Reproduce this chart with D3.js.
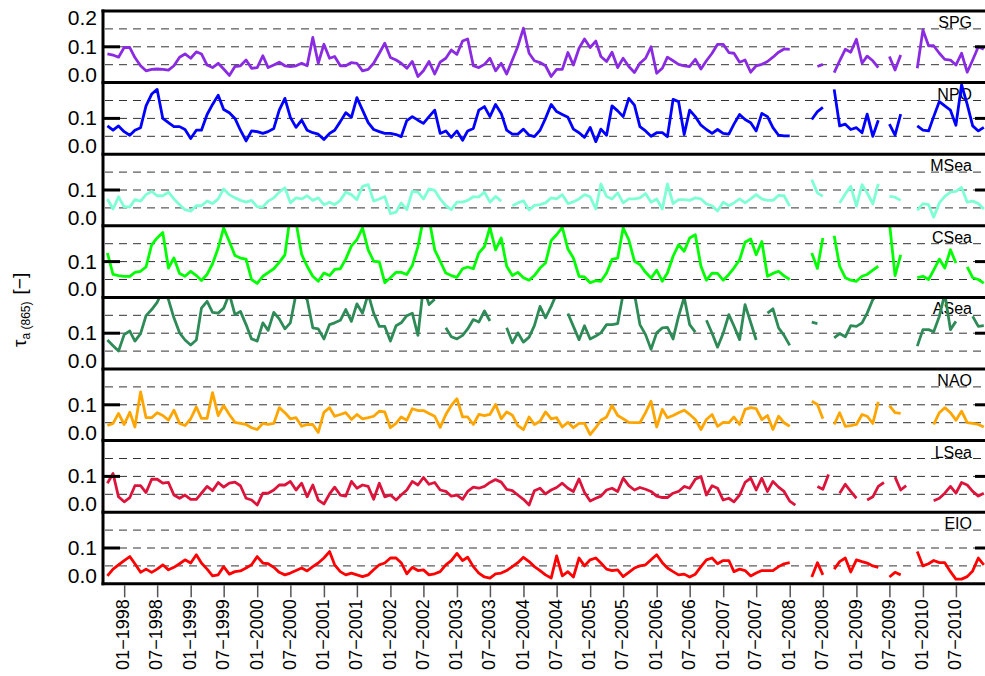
<!DOCTYPE html>
<html>
<head>
<meta charset="utf-8">
<script src="https://d3js.org/d3.v7.min.js"></script>
<style>
  body { margin: 0; background: #fff; }
  text { font-family: "Liberation Sans", Arial, Helvetica, sans-serif; }
</style>
</head>
<body>
<div id="chart"></div>
<script>

// monthly aerosol optical thickness, Oct 1997 .. Dec 2010 (null = no data)
var regions = ["SPG", "NPO", "MSea", "CSea", "ASea", "NAO", "LSea", "EIO"];
var colors = ["blueviolet", "#0000ff", "aquamarine", "#00ff00", "seagreen", "orange", "crimson", "#ff0000"];

var spg = [
  .080,.077,.071,.098,.098,.070,.047,.033,.037,.038,
  .037,.035,.047,.071,.080,.068,.086,.080,.049,.042,
  .054,.038,.020,.045,.047,.063,.040,.042,.075,.042,
  .049,.057,.047,.045,.047,.054,.047,.126,.054,.107,
  .068,.073,.047,.047,.056,.054,.033,.037,.054,.082,
  .110,.070,.063,.054,.040,.059,.017,.033,.059,.024,
  .057,.068,.091,.079,.116,.122,.047,.042,.051,.068,
  .033,.054,.024,.063,.101,.152,.082,.061,.056,.047,
  .017,.037,.037,.084,.049,.096,.122,.098,.116,.073,
  .059,.085,.042,.068,.045,.028,.054,.068,.100,.026,
  .040,.071,.061,.051,.047,.045,.065,.038,.061,.082,
  .107,.107,.084,.082,.057,.063,.029,.047,.051,.059,
  .071,.085,.094,.093,null,null,null,null,.045,.051,
  null,.028,.061,.093,.085,.121,.054,.074,.061,.042,
  null,.073,.035,.077,null,null,.040,.147,.103,.103,
  .082,.065,.063,.049,.082,.029,.063,.100,.093];

var npo = [
  .079,.067,.079,.063,.053,.067,.074,.135,.168,.181,
  .100,.088,.077,.077,.069,.044,.067,.067,.111,.139,
  .165,.125,.116,.100,.067,.037,.065,.063,.058,.063,
  .072,.123,.156,.103,.075,.095,.067,.060,.056,.041,
  .058,.067,.091,.116,.103,.158,.123,.088,.069,.063,
  .058,.058,.055,.049,.094,.105,.095,.086,.105,.123,
  .058,.065,.047,.065,.039,.065,.072,.123,.133,.105,
  .139,.114,.067,.056,.056,.070,.053,.049,.067,.100,
  .139,.119,.111,.103,.070,.060,.047,.075,.035,.070,
  .053,.135,.121,.105,.156,.137,.077,.065,.050,.060,
  .060,.049,.153,.147,.055,.123,.105,.081,.069,.058,
  .069,.058,.056,.084,.111,.097,.088,.065,.114,.105,
  .074,.053,.051,.051,null,null,null,.097,.119,.131,
  null,.181,.079,.084,.069,.074,.060,.112,.050,.095,
  null,.084,.053,.112,null,null,.079,.067,.065,.105,
  .147,.135,.123,.081,.194,.139,.079,.065,.075];

var msea = [
  .075,.047,.081,.053,.053,.073,.069,.087,.096,.084,
  .084,.094,.075,.059,.045,.041,.056,.056,.069,.062,
  .075,.103,.087,.078,.071,.066,.071,.053,.053,.069,
  .078,.094,.106,.064,.078,.075,.084,.071,.078,.059,
  .066,.059,.071,.094,.087,.073,.110,.115,.069,.075,
  .082,.034,.038,.064,.045,.096,.094,.075,.103,.099,
  .075,.056,.045,.066,.066,.071,.081,.081,.094,.066,
  .082,.069,null,.056,.064,.070,.044,.057,.059,.064,
  .078,.075,.087,.062,.067,.075,.087,.081,.047,.117,
  .082,.075,.092,.064,.075,.075,.078,.090,.066,.075,
  .047,.117,.062,.073,.073,.071,.078,.075,.061,.056,
  .041,.066,.056,.064,.075,.064,.075,.087,.075,.071,
  .071,.085,.084,.055,null,null,null,.129,.092,.082,
  null,null,.064,.089,.110,.055,.115,.092,.061,.117,
  null,.082,.080,.071,null,null,.043,.062,.059,.024,
  .064,.082,.094,.096,.107,.066,.069,.062,.047];

var csea = [
  .124,.064,.061,.059,.059,.070,.073,.085,.147,.166,
  .181,.082,.110,.067,.059,.073,.061,.047,.064,.094,
  .138,.194,.156,.117,.110,.107,.050,.039,.059,.069,
  .080,.098,.119,.230,.210,.120,.087,.059,.045,.068,
  .061,.078,.080,.107,.144,.161,.194,.133,.101,.099,
  .041,.055,.070,.070,.064,.089,.142,.220,.220,.133,
  .101,.068,.061,.056,.080,.085,.080,.124,.142,.196,
  .133,.166,.087,.061,.070,.055,.048,.061,.082,.096,
  .159,.175,.196,.135,.110,.059,.057,.041,.047,.045,
  .068,.106,.110,.194,.161,.101,.092,.070,.054,.076,
  .045,.068,.115,.147,.129,.166,.175,.087,.048,.068,
  .067,.048,.064,.082,.105,.154,.163,.119,.156,.059,
  .067,.073,.060,.050,null,null,null,.124,.081,.166,
  null,.172,.087,.055,.048,.045,.059,.064,.076,.087,
  null,.210,.061,.119,null,null,.055,.059,.050,.076,
  .107,.082,.133,.096,null,.085,.055,.050,.040];

var asea = [
  .081,.065,.050,.096,.106,.078,.099,.149,.166,.186,
  .220,.194,.143,.101,.081,.067,.081,.170,.189,.158,
  .156,.170,.210,.152,.161,.124,.084,.078,.129,.108,
  .158,.140,.112,.129,.210,.210,.194,.115,.112,.084,
  .124,.129,.136,.166,.133,.182,.156,.210,.156,.119,
  .119,.078,.121,.129,.149,.156,.094,.230,.180,.195,
  null,.115,.090,.084,.094,.112,.138,.131,.162,.134,
  null,null,.115,.073,.101,.075,.089,.121,.175,.143,
  .175,.210,null,.155,.119,.082,.121,.084,.092,.101,
  .124,.124,.127,.210,.220,.210,.124,.096,.055,.101,
  .115,.116,.084,.147,.200,.124,.103,null,.136,.100,
  .061,.100,.152,.120,.082,.180,.130,.081,null,.156,
  .168,.115,.094,.066,null,null,null,.131,.127,null,
  null,.087,.099,.090,.121,.119,.129,.156,.194,.210,
  null,null,null,null,null,null,.064,.110,.110,.104,
  .147,.210,.110,.133,null,null,.147,.119,.121];

var nao = [
  .042,.048,.076,.045,.079,.038,.136,.064,.064,.078,
  .070,.057,.085,.048,.042,.061,.094,.062,.062,.134,
  .070,.098,.073,.051,.048,.045,.036,.031,.048,.045,
  .048,.092,.078,.061,.064,.040,.045,.045,.023,.079,
  .092,.068,.073,.078,.059,.073,.061,.064,.068,.082,
  .080,.036,.048,.066,.057,.089,.084,.084,.076,.068,
  .037,.073,.098,.117,.066,.066,.045,.073,.070,.073,
  .101,.061,.080,.071,.042,.031,.066,.045,.054,.080,
  .061,.064,.038,.051,.036,.048,.048,.017,.036,.057,
  .066,.098,.070,.061,.051,.050,.050,.078,.110,.038,
  .087,.064,.070,.078,.085,.073,.059,.031,.059,.073,
  .040,.051,.050,.066,.045,.087,.092,.089,.059,.070,
  .031,.068,.050,.040,null,null,null,.110,.101,.061,
  null,.045,.078,.040,.042,.045,.073,.068,.048,.108,
  null,.098,.078,.076,null,null,null,null,null,.045,
  .078,.092,.078,.057,.082,.050,.048,.045,.038];

var lsea = [
  .081,.108,.043,.029,.041,.074,.074,.055,.092,.092,
  .081,.083,.048,.039,.048,.036,.036,.053,.072,.060,
  .083,.070,.081,.084,.074,.039,.034,.020,.053,.053,
  .062,.076,.076,.086,.062,.081,.043,.076,.034,.023,
  .051,.070,.048,.045,.086,.067,.076,.072,.036,.081,
  .043,.048,.034,.048,.062,.086,.076,.097,.078,.083,
  .062,.058,.045,.048,.036,.058,.070,.067,.072,.083,
  .091,.084,.064,.060,.048,.036,.020,.060,.067,.051,
  .062,.069,.081,.067,.058,.093,.055,.031,.039,.045,
  .062,.067,.058,.095,.074,.062,.069,.064,.058,.045,
  .041,.041,.053,.058,.072,.067,.092,.100,.048,.074,
  .067,.034,.039,.029,.048,.083,.095,.062,.095,.058,
  .086,.070,.058,.031,.020,null,null,null,.072,.064,
  .105,null,.053,.078,.058,.039,null,.034,.043,.072,
  .083,null,.098,.062,.074,null,null,null,null,.032,
  .039,.053,.072,.053,.083,.076,.058,.045,.053];

var eio = [
  .022,.041,.053,.065,.076,.056,.032,.041,.032,.041,
  .053,.039,.046,.056,.067,.058,.081,.058,.041,.022,
  .025,.048,.027,.034,.036,.044,.053,.076,.058,.056,
  .046,.032,.025,.030,.037,.044,.036,.048,.058,.072,
  .090,.053,.034,.025,.030,.025,.020,.025,.039,.053,
  .058,.072,.072,.059,.028,.046,.037,.039,.025,.028,
  .034,.053,.065,.085,.065,.074,.048,.030,.019,.016,
  .028,.030,.037,.048,.059,.074,.062,.048,.037,.025,
  .016,.078,.022,.034,.019,.072,.050,.067,.072,.058,
  .041,.037,.039,.020,.032,.044,.050,.053,.067,.081,
  .059,.044,.034,.025,.027,.019,.027,.048,.067,.072,
  .056,.065,.065,.034,.041,.037,.022,.030,.037,.037,
  .037,.048,.056,.059,null,null,null,.019,.059,.025,
  null,.041,.062,.072,.033,.067,.062,.058,.050,.046,
  null,.019,.032,.025,null,null,.090,.050,.056,.065,
  .059,.059,.034,.013,.013,.020,.036,.072,.053];

var seriesValues = [spg, npo, msea, csea, asea, nao, lsea, eio];

var tickLabels = [
  "01−1998", "07−1998", "01−1999", "07−1999", "01−2000", "07−2000",
  "01−2001", "07−2001", "01−2002", "07−2002", "01−2003", "07−2003",
  "01−2004", "07−2004", "01−2005", "07−2005", "01−2006", "07−2006",
  "01−2007", "07−2007", "01−2008", "07−2008", "01−2009", "07−2009",
  "01−2010", "07−2010"];

var gridVals = [0.05, 0.1, 0.15];

// layout
var plotLeft = 103, plotRight = 992, plotTop = 11, panelH = 71.6;
var width = 985, height = 676;

var svg = d3.select("#chart")
  .append("svg")
    .attr("width", width)
    .attr("height", height);

// one point per month
var months = d3.timeMonth.range(new Date(1997, 9, 1), new Date(2011, 0, 1));

var x = d3.scaleTime()
  .domain([new Date(1997, 9, 1), new Date(2010, 11, 1)])
  .range([107.4, 983.8]);

var defs = svg.append("defs");

seriesValues.forEach(function(values, k) {
  var top = plotTop + k * panelH;
  var y = d3.scaleLinear()
    .domain([0, 0.2])
    .range([top + panelH, top]);

  defs.append("clipPath")
      .attr("id", "clip" + k)
    .append("rect")
      .attr("x", plotLeft)
      .attr("y", top)
      .attr("width", plotRight - plotLeft)
      .attr("height", panelH);

  var g = svg.append("g");

  // dashed reference lines
  g.selectAll(".grid")
    .data(gridVals)
    .enter()
    .append("line")
      .attr("x1", plotLeft + 2)
      .attr("x2", plotRight)
      .attr("y1", function(d) { return y(d); })
      .attr("y2", function(d) { return y(d); })
      .attr("stroke", "#333")
      .attr("stroke-width", 1)
      .attr("stroke-dasharray", "8,6");

  // region name
  g.append("text")
    .attr("x", 972)
    .attr("y", y(0.15) - 1)
    .attr("text-anchor", "end")
    .style("font-size", "16px")
    .text(regions[k]);

  // the series
  var line = d3.line()
    .defined(function(d) { return d !== null; })
    .x(function(d, i) { return x(months[i]); })
    .y(function(d) { return y(d); });

  g.append("path")
    .datum(values)
    .attr("clip-path", "url(#clip" + k + ")")
    .attr("fill", "none")
    .attr("stroke", colors[k])
    .attr("stroke-width", 2.8)
    .attr("stroke-linejoin", "round")
    .attr("d", line);

  // major ticks at 0.1 on both sides
  g.append("line")
    .attr("x1", plotLeft).attr("x2", plotLeft + 17)
    .attr("y1", y(0.1)).attr("y2", y(0.1))
    .attr("stroke", "#000").attr("stroke-width", 3);
  g.append("line")
    .attr("x1", plotRight - 17).attr("x2", plotRight)
    .attr("y1", y(0.1)).attr("y2", y(0.1))
    .attr("stroke", "#000").attr("stroke-width", 3);

  // tick labels
  var labs = [{v: 0.1, dy: 7}, {v: 0, dy: -1}];
  if (k === 0) labs.push({v: 0.2, dy: 14});
  g.selectAll(".ylab")
    .data(labs)
    .enter()
    .append("text")
      .attr("x", 97)
      .attr("y", function(d) { return y(d.v) + d.dy; })
      .attr("text-anchor", "end")
      .style("font-size", "21px")
      .text(function(d) { return d3.format(".1f")(d.v); });
});

// panel borders
svg.selectAll(".border")
  .data(d3.range(regions.length + 1))
  .enter()
  .append("line")
    .attr("x1", plotLeft - 1.5)
    .attr("x2", plotRight)
    .attr("y1", function(d) { return plotTop + d * panelH; })
    .attr("y2", function(d) { return plotTop + d * panelH; })
    .attr("stroke", "#000")
    .attr("stroke-width", 3);

svg.append("line")
  .attr("x1", plotLeft).attr("x2", plotLeft)
  .attr("y1", plotTop - 1.5).attr("y2", plotTop + regions.length * panelH + 1.5)
  .attr("stroke", "#000")
  .attr("stroke-width", 3);

// x axis
var tickDates = tickLabels.map(function(s) {
  var p = s.split("−");
  return new Date(+p[1], +p[0] - 1, 1);
});
var bottom = plotTop + regions.length * panelH;

var xAxis = svg.append("g")
  .attr("transform", "translate(0," + (bottom + 1.5) + ")")
  .call(d3.axisBottom(x)
    .tickValues(tickDates)
    .tickSize(12)
    .tickFormat(function(d, i) { return tickLabels[i]; }));
xAxis.select(".domain").remove();
xAxis.selectAll(".tick line")
  .attr("stroke", "#555")
  .attr("stroke-width", 1.5);
xAxis.selectAll(".tick text")
  .attr("transform", "rotate(-90)")
  .attr("x", -14)
  .attr("y", -1.5)
  .attr("dy", "0.35em")
  .attr("fill", "#000")
  .style("text-anchor", "end")
  .style("font-size", "18px")
  .style("font-family", "'Liberation Sans', Arial, sans-serif");

// y title, read bottom to top
var title = svg.append("text")
  .attr("transform", "translate(26,347) rotate(-90)")
  .attr("text-anchor", "start")
  .style("font-size", "19px");
title.append("tspan").text("τ");
title.append("tspan").attr("dy", 4).style("font-size", "12px").text("a (865)");
title.append("tspan").attr("dy", -4).attr("dx", 7).text("[−]");

</script>
</body>
</html>
